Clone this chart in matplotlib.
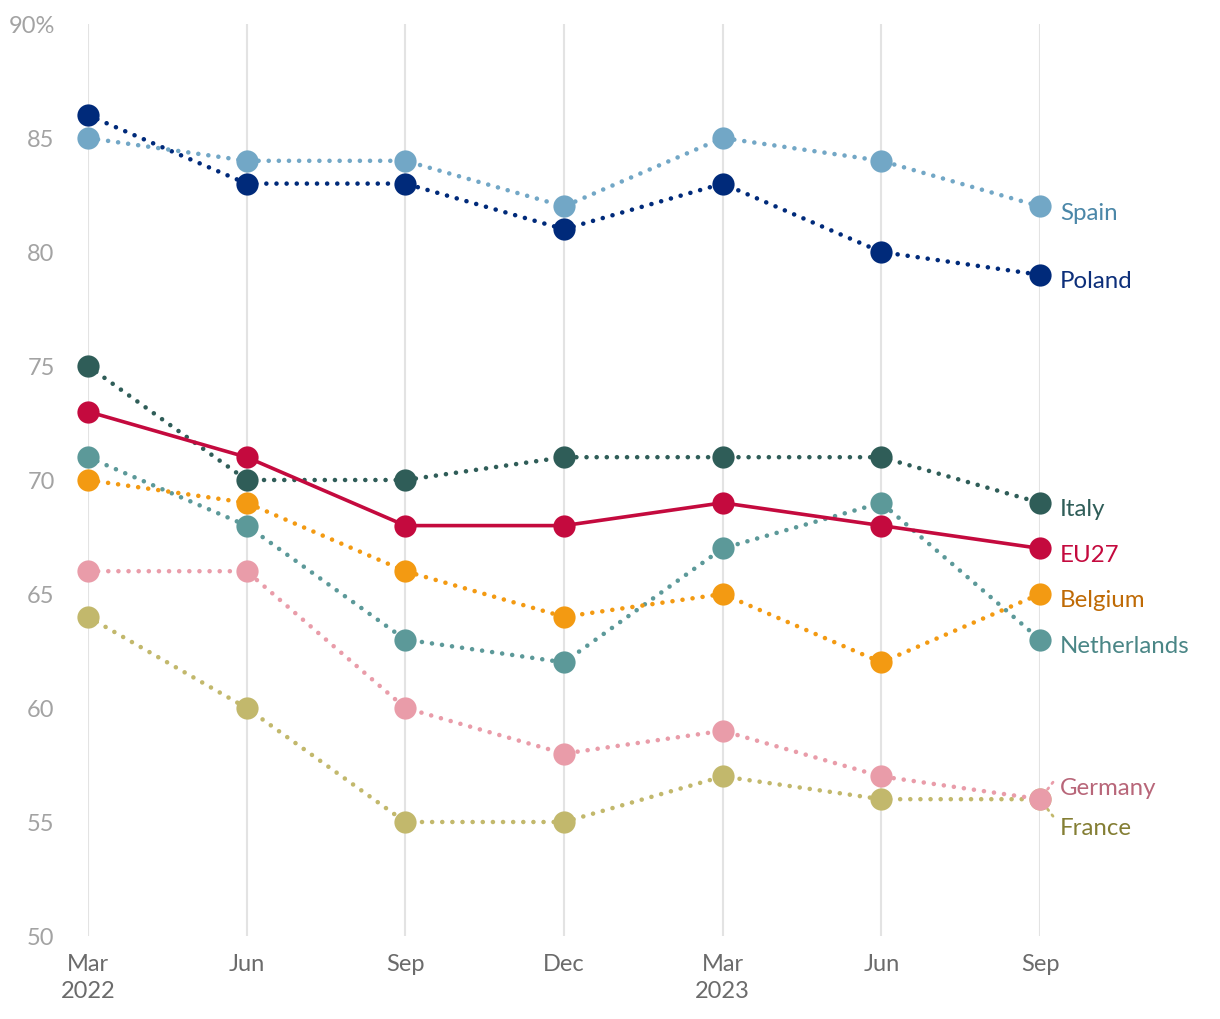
import matplotlib

matplotlib.use("Agg")
import matplotlib.pyplot as plt  # noqa: E402

plt.rcParams["font.family"] = ["Lato", "DejaVu Sans"]

PERIODS = ["Mar\n2022", "Jun", "Sep", "Dec", "Mar\n2023", "Jun", "Sep"]
SERIES = ["Spain", "Poland", "Italy", "EU27", "Belgium", "Netherlands",
          "Germany", "France"]
spain = [85, 84, 84, 82, 85, 84, 82]
poland = [86, 83, 83, 81, 83, 80, 79]
italy = [75, 70, 70, 71, 71, 71, 69]
eu27 = [73, 71, 68, 68, 69, 68, 67]
belgium = [70, 69, 66, 64, 65, 62, 65]
netherlands = [71, 68, 63, 62, 67, 69, 63]
germany = [66, 66, 60, 58, 59, 57, 56]
france = [64, 60, 55, 55, 57, 56, 56]
VALUES = [spain, poland, italy, eu27, belgium, netherlands, germany, france]
Y_TICKS = [50, 55, 60, 65, 70, 75, 80, 85, 90]

PX = 1 / 1.389  # pixels -> points at 100 dpi

# line colour, label colour, label y-offset (px)
STYLE = {
    "Spain": ("#72a7c6", "#4b87a8", -6),
    "Poland": ("#002a7a", "#0d2f7a", -6),
    "Italy": ("#2f5d58", "#2f5d58", -6),
    "EU27": ("#c40a3e", "#c40a3e", -6),
    "Belgium": ("#f39a12", "#bf6a05", -6),
    "Netherlands": ("#5c9999", "#4a8686", -6),
    "Germany": ("#e99ca9", "#b86679", 12),
    "France": ("#c2b86c", "#847e34", -28),
}

fig = plt.figure(figsize=(12.2, 10.2), dpi=100)
ax = fig.add_axes([88 / 1220, 1 - 937 / 1020, (1040 - 88) / 1220, (937 - 25) / 1020])
x = list(range(len(PERIODS)))

# short leader dots towards the split Germany / France labels
for name, sign in (("Germany", 1), ("France", -1)):
    col = STYLE[name][0]
    v = VALUES[SERIES.index(name)][-1]
    ax.annotate("", (x[-1], v), xytext=(13 * PX, sign * 17 * PX),
                textcoords="offset points", annotation_clip=False,
                arrowprops=dict(arrowstyle="-", color=col, lw=2,
                                ls=(0, (0.6, 2)), shrinkA=0, shrinkB=0),
                zorder=1)

# draw from bottom to top so upper series sit on top
for name, vals in reversed(list(zip(SERIES, VALUES))):
    col, lcol, dy = STYLE[name]
    if name == "EU27":
        ax.plot(x, vals, color=col, lw=2.6, zorder=4, clip_on=False)
    else:
        ax.plot(x, vals, color=col, lw=3.3, ls=(0, (0.01, 2.2)),
                dash_capstyle="round", zorder=3, clip_on=False)
    ax.plot(x, vals, "o", ms=16, color=col, mec="none", zorder=5,
            clip_on=False)
    ax.annotate(name, (x[-1], vals[-1]), xytext=(20 * PX, dy * PX),
                textcoords="offset points", va="center", ha="left",
                fontsize=17.3, color=lcol, annotation_clip=False)

ax.set_xlim(0, 6)
ax.set_ylim(50, 90)
ax.set_xticks(x)
ax.set_xticklabels(PERIODS, fontsize=17, color="#6b6b6b", linespacing=1.38)
ax.set_yticks(Y_TICKS)
ax.set_yticklabels([str(t) if t != 90 else "90%" for t in Y_TICKS],
                   fontsize=17, color="#a3a3a3")
ax.tick_params(axis="x", length=0, pad=12)
ax.tick_params(axis="y", length=0, pad=24)
ax.grid(axis="x", color="#e3e3e3", lw=1.5, zorder=0)
ax.set_axisbelow(True)
for s in ax.spines.values():
    s.set_visible(False)

fig.savefig("out.png", dpi=100)
